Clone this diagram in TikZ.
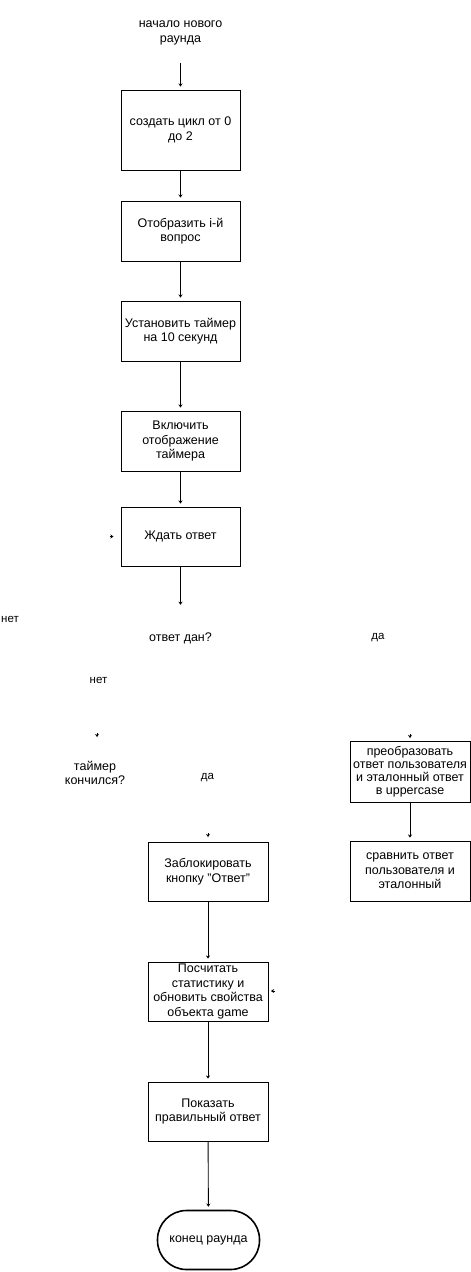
\documentclass[tikz,border=0pt]{standalone}
\usepackage{fontspec}
\setmainfont{Liberation Sans}
\usetikzlibrary{arrows.meta}
\begin{document}
\begin{tikzpicture}[x=1pt,y=-1pt,
  txt/.style={align=center, inner sep=0pt, font=\fontsize{12.5}{14.5}\selectfont},
  lbl/.style={align=center, inner sep=0pt, font=\fontsize{11.5}{13}\selectfont},
  box/.style={txt, draw, line width=0.9pt, minimum width=119pt, minimum height=60pt},
  term/.style={txt, draw, line width=1.6pt, minimum width=102pt, minimum height=59pt, rounded corners=29pt},
  arr/.style={draw, line width=0.9pt, -{Stealth[length=3.2pt,width=4.2pt,inset=1.2pt]}, shorten >=3pt},
  stub/.style={draw, line width=0.9pt, -{Stealth[length=3.2pt,width=4.2pt,inset=1.2pt]}}]
\useasboundingbox (0,0) rectangle (471,1272);

% main column
\node[txt, minimum height=60pt] (start) at (180.5,33) {начало нового\\раунда};
\node[box, minimum height=80pt] (b1) at (180.5,130) {создать цикл от 0\\до 2};
\node[box] (b2) at (180.5,231) {Отобразить i-й\\вопрос};
\node[box] (b3) at (180.5,331) {Установить таймер\\на 10 секунд};
\node[box] (b4) at (180.5,441) {Включить\\отображение\\таймера};
\node[box, minimum height=59pt] (b5) at (180.5,536.5) {Ждать ответ};

% decisions and their labels
\node[txt, minimum height=60pt] (q1) at (180.5,638) {ответ дан?};
\node[txt, minimum height=34pt] (q2) at (95,773) {таймер\\кончился?};
\node[lbl] (no1) at (10,619) {нет};
\node[lbl] (yes1) at (378,638) {да};
\node[lbl] (no2) at (98.5,680) {нет};
\node[lbl] (yes2) at (207.5,778) {да};

% right branch
\node[box, minimum width=120pt, minimum height=61pt, font=\fontsize{12.5}{13}\selectfont] (b6) at (410,771.5) {преобразовать\\ответ пользователя\\и эталонный ответ\\в uppercase};
\node[box, minimum width=120pt] (b7) at (410,871) {сравнить ответ\\пользователя и\\эталонный};

% lower column
\node[box, minimum width=120pt, minimum height=59pt] (b8) at (208,871.5) {Заблокировать\\кнопку "Ответ"};
\node[box, minimum width=120pt, minimum height=59pt] (b9) at (208,991.5) {Посчитать\\статистику и\\обновить свойства\\объекта game};
\node[box, minimum width=120pt, minimum height=59pt] (b10) at (208,1111.5) {Показать\\правильный ответ};
\node[term] (end) at (208.5,1240) {конец раунда};

% connectors
\draw[arr] (start.south) -- (b1.north);
\draw[arr] (b1) -- (b2);
\draw[arr] (b2) -- (b3);
\draw[arr] (b3) -- (b4);
\draw[arr] (b4) -- (b5);
\draw[arr] (b5) -- (q1.north);
\draw[arr] (b6) -- (b7);
\draw[arr] (b8) -- (b9);
\draw[arr] (b9) -- (b10);
\draw[arr] (b10) -- (end);

% arrow ends without a visible line
\coordinate (h1a) at (109.5,536.5); \coordinate (h1b) at (113.5,536.5);
\coordinate (h2a) at (97,733);      \coordinate (h2b) at (97,737);
\coordinate (h3a) at (410,734);     \coordinate (h3b) at (410,738);
\coordinate (h4a) at (208,833);     \coordinate (h4b) at (208,837);
\coordinate (h5a) at (275,991);     \coordinate (h5b) at (271,991);
\draw[stub] (h1a) -- (h1b);
\draw[stub] (h2a) -- (h2b);
\draw[stub] (h3a) -- (h3b);
\draw[stub] (h4a) -- (h4b);
\draw[stub] (h5a) -- (h5b);
\end{tikzpicture}
\end{document}
